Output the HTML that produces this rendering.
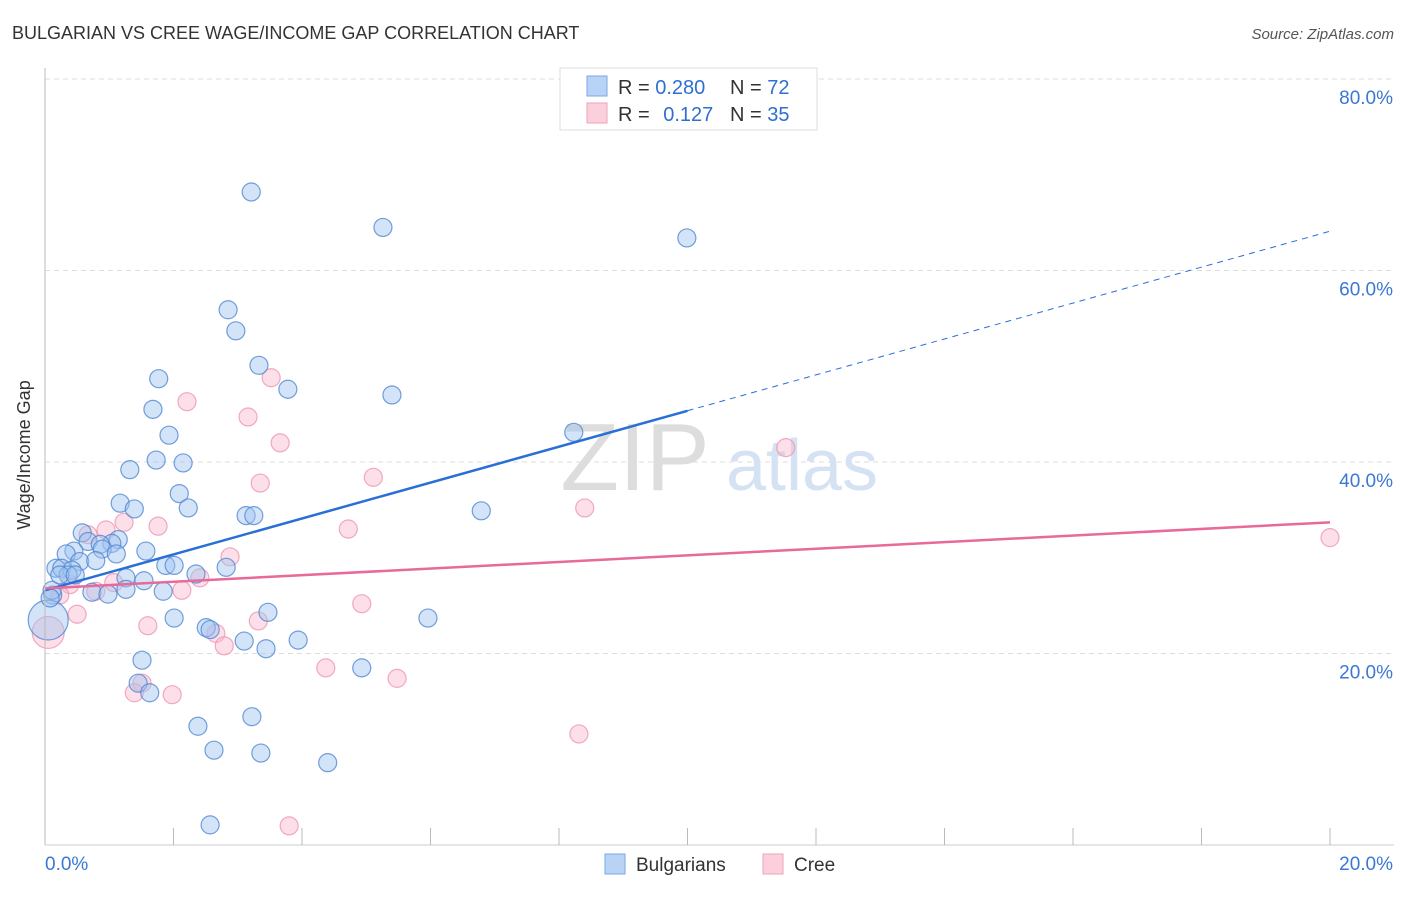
<!DOCTYPE html>
<html><head><meta charset="utf-8"><style>
body{margin:0;background:#fff;font-family:"Liberation Sans",sans-serif;}
svg text{font-family:"Liberation Sans",sans-serif;}
</style></head><body>
<svg id="chart" width="1406" height="892" xmlns="http://www.w3.org/2000/svg">
<text x="12" y="39" font-size="18" fill="#333">BULGARIAN VS CREE WAGE/INCOME GAP CORRELATION CHART</text>
<text x="1394" y="39" font-size="15" fill="#555" font-style="italic" text-anchor="end">Source: ZipAtlas.com</text>
<g id="grid"></g>
<g>
<text x="635" y="490" font-size="96" font-family="Liberation Serif" fill="#ddd" text-anchor="middle">ZIP</text>
<text x="802" y="490" font-size="72" fill="#d4e2f4" text-anchor="middle">atlas</text>
</g>
<g id="points"></g>
<g id="trends"></g>
<g id="axes"></g>
<text x="-455" y="30" transform="rotate(-90)" font-size="18" fill="#333" text-anchor="middle">Wage/Income Gap</text>
<g>
<rect x="560" y="68" width="257" height="62" fill="#fff" stroke="#ddd"/>
<rect x="587" y="76" width="20" height="20" fill="#b8d3f5" stroke="#7aa8e6"/>
<rect x="587" y="103" width="20" height="20" fill="#fbd0dd" stroke="#f0a0b8"/>
<text x="618" y="94" font-size="20" fill="#333">R = <tspan fill="#2f6fd1">0.280</tspan></text>
<text x="730" y="94" font-size="20" fill="#333">N = <tspan fill="#2f6fd1">72</tspan></text>
<text x="618" y="121" font-size="20" fill="#333">R = <tspan fill="#2f6fd1" dx="8">0.127</tspan></text>
<text x="730" y="121" font-size="20" fill="#333">N = <tspan fill="#2f6fd1">35</tspan></text>
</g>
<g>
<rect x="605" y="854" width="20" height="20" fill="#b8d3f5" stroke="#7aa8e6"/>
<text x="636" y="871" font-size="19" fill="#333">Bulgarians</text>
<rect x="763" y="854" width="20" height="20" fill="#fbd0dd" stroke="#f0a0b8"/>
<text x="794" y="871" font-size="19" fill="#333">Cree</text>
</g>
</svg>
<script>
const yTicks=[20,40,60,80];
const yTickLabels=["20.0%","40.0%","60.0%","80.0%"];
const xTickLabels=["0.0%","20.0%"];
const blueX=[3.21,5.26,9.99,2.85,2.97,3.33,1.77,3.78,5.40,1.68,1.93,8.23,1.73,2.15,1.32,2.09,1.17,1.39,2.23,3.13,3.25,6.79,0.58,0.67,1.14,1.04,0.86,0.89,0.45,1.57,0.33,1.11,0.54,0.79,1.88,2.01,0.17,0.26,0.42,2.82,2.35,1.26,1.54,0.73,0.98,1.26,1.84,0.12,0.36,3.47,2.01,5.96,2.51,2.57,3.10,3.94,3.44,1.51,4.93,1.45,1.63,2.38,3.22,2.63,3.36,4.40,2.57,0.05,0.11,0.23,0.47,0.08];
const blueY=[68.2,64.5,63.4,55.9,53.7,50.1,48.7,47.6,47.0,45.5,42.8,43.1,40.2,39.9,39.2,36.7,35.7,35.1,35.2,34.4,34.4,34.9,32.6,31.7,31.9,31.5,31.4,30.9,30.7,30.7,30.4,30.4,29.6,29.7,29.2,29.2,28.9,28.9,28.7,29.0,28.3,27.9,27.6,26.4,26.2,26.7,26.5,26.1,28.2,24.3,23.7,23.7,22.7,22.5,21.3,21.4,20.5,19.3,18.5,16.9,15.9,12.4,13.4,9.9,9.6,8.6,2.1,23.5,26.6,28.2,28.2,25.8];
const blueR=[9,9,9,9,9,9,9,9,9,9,9,9,9,9,9,9,9,9,9,9,9,9,9,9,9,9,9,9,9,9,9,9,9,9,9,9,9,9,9,9,9,9,9,9,9,9,9,9,9,9,9,9,9,9,9,9,9,9,9,9,9,9,9,9,9,9,9,20,9,9,9,9];
const pinkX=[3.52,2.21,3.16,3.66,11.53,5.11,3.35,8.40,20.0,1.23,1.76,0.95,0.67,4.72,2.88,2.41,1.07,2.13,0.79,0.39,4.93,0.50,3.32,1.60,2.66,2.79,4.37,5.48,1.51,1.39,1.98,8.31,3.80,0.05,0.23];
const pinkY=[48.8,46.3,44.7,42.0,41.5,38.4,37.8,35.2,32.1,33.7,33.3,32.9,32.4,33.0,30.1,27.9,27.4,26.6,26.5,27.2,25.2,24.1,23.4,22.9,22.1,20.8,18.5,17.4,16.9,15.9,15.7,11.6,2.0,22.2,26.1];
const pinkR=[9,9,9,9,9,9,9,9,9,9,9,9,9,9,9,9,9,9,9,9,9,9,9,9,9,9,9,9,9,9,9,9,9,16,9];
const blueTrend=[26.6,64.1];
const pinkTrend=[26.8,33.7];
const X0=45,X1=1330,Y0=845,YS=9.575;
const sx=v=>X0+(X1-X0)*v/20;
const sy=v=>Y0-v*YS;
const NS="http://www.w3.org/2000/svg";
function mk(tag,attrs,parent){const e=document.createElementNS(NS,tag);for(const k in attrs)e.setAttribute(k,attrs[k]);parent.appendChild(e);return e;}
const grid=document.getElementById('grid'),axes=document.getElementById('axes'),pts=document.getElementById('points'),tr=document.getElementById('trends');
yTicks.forEach((t,i)=>{
 const l=mk('line',{x1:X0,x2:1394,y1:sy(t),y2:sy(t),stroke:'#ddd','stroke-dasharray':'5,4'},grid);
 
 
 const tx=mk('text',{x:1393,y:sy(t)+25,'font-size':19,fill:'#3a78d4','text-anchor':'end'},axes);
 tx.textContent=yTickLabels[i];
 
 
});
const al=mk('line',{x1:X0,x2:X0,y1:68,y2:Y0,stroke:'#bbb'},axes);


const bl=mk('line',{x1:X0,x2:1394,y1:Y0,y2:Y0,stroke:'#ccc'},axes);


for(let i=1;i<=10;i++){
 const t=mk('line',{x1:sx(i*2),x2:sx(i*2),y1:Y0-17,y2:Y0,stroke:'#bbb'},axes);
 
 
}
[[0,'start',45],[20,'end',1393]].forEach((d,i)=>{
 const tx=mk('text',{x:d[2],y:870,'font-size':19,fill:'#3a78d4','text-anchor':d[1]},axes);
 tx.textContent=xTickLabels[i];
 
 
});
pinkX.forEach((x,i)=>{
 const c=mk('circle',{cx:sx(x),cy:sy(pinkY[i]),r:pinkR[i],fill:'rgba(248,185,205,0.45)',stroke:'rgba(238,150,178,0.8)','stroke-width':1.2},pts);
 
 
});
blueX.forEach((x,i)=>{
 const c=mk('circle',{cx:sx(x),cy:sy(blueY[i]),r:blueR[i],fill:'rgba(160,196,240,0.45)',stroke:'rgba(80,135,210,0.8)','stroke-width':1.2},pts);
 
 
});
const bm=blueTrend[0]+(blueTrend[1]-blueTrend[0])*0.5;
const b1=mk('line',{x1:sx(0),y1:sy(blueTrend[0]),x2:sx(10),y2:sy(bm),stroke:'#2a6fd6','stroke-width':2.5},tr);


const b2=mk('line',{x1:sx(10),y1:sy(bm),x2:sx(20),y2:sy(blueTrend[1]),stroke:'#2a6fd6','stroke-width':1,'stroke-dasharray':'6,5'},tr);


const p1=mk('line',{x1:sx(0),y1:sy(pinkTrend[0]),x2:sx(20),y2:sy(pinkTrend[1]),stroke:'#e8699a','stroke-width':2.5},tr);


</script>
</body></html>
